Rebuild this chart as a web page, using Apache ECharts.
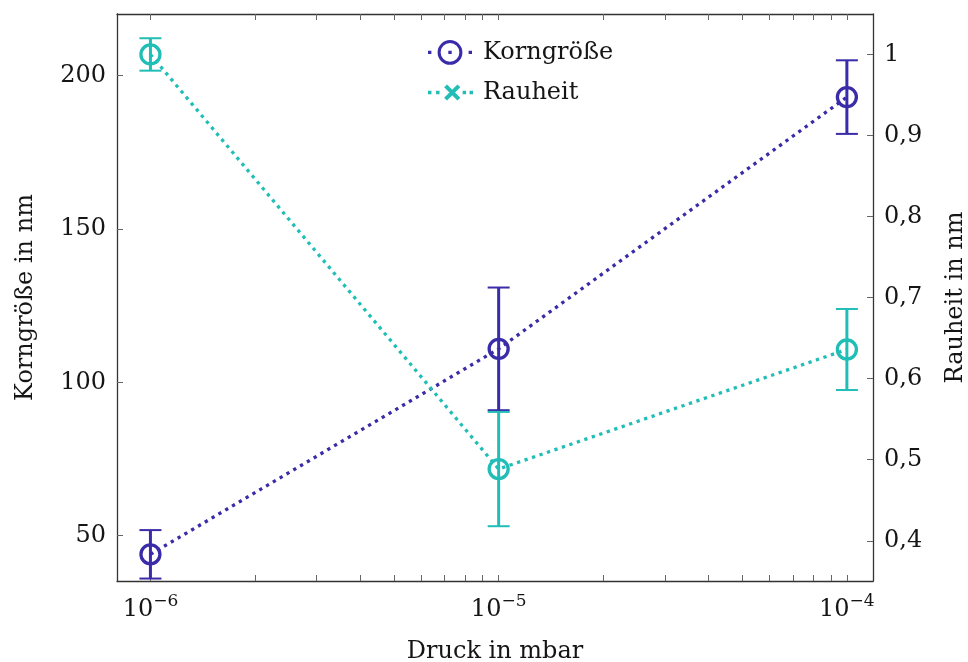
<!DOCTYPE html>
<html><head><meta charset="utf-8">
<script src="https://cdn.jsdelivr.net/npm/echarts@6/dist/echarts.min.js"></script>
<style>html,body{margin:0;padding:0;background:#fff}#c{width:968px;height:662px}</style>
</head><body><div id="c"></div>
<script>
// ---- data ----
const pressure = [1e-6, 1e-5, 1e-4];
const korngroesse = [43.9, 110.9, 193.0];
const korngroesseErr = [7.9, 20.0, 12.0];
const rauheit = [1.0, 0.4885, 0.636];
const rauheitErr = [0.020, 0.0705, 0.050];
const xLabelTicks = [1e-6, 1e-5, 1e-4];
const xMinorTicks = [1e-6, 2e-6, 3e-6, 4e-6, 5e-6, 6e-6, 7e-6, 8e-6, 9e-6,
                     1e-5, 2e-5, 3e-5, 4e-5, 5e-5, 6e-5, 7e-5, 8e-5, 9e-5, 1e-4];
const leftTicks = [50, 100, 150, 200];
const rightTicks = [0.4, 0.5, 0.6, 0.7, 0.8, 0.9, 1.0];

// ---- style ----
const FONT = 'DejaVu Serif';
const FS = 24;
const TXT = '#151515';
const C1 = '#3a2ba8';
const C2 = '#20beb6';
const AX = '#333';
const TICK = '#666';

const KORN_ICON = 'path://M0 9.5h3v3h-3Z M36 9.5h3v3h-3Z M18 9.5h3v3h-3Z ' +
  'M30.5 11A11 11 0 1 1 8.5 11A11 11 0 1 1 30.5 11Z M27.8 11A8.3 8.3 0 1 0 11.2 11A8.3 8.3 0 1 0 27.8 11Z';
const RAU_ICON = 'path://M0 5.5h3v3h-3Z M7 5.5h3v3h-3Z M30 5.5h3v3h-3Z M36 5.5h3v3h-3Z ' +
  'M16.48 0L28 11.52L25.52 14L14 2.48Z M25.52 0L28 2.48L16.48 14L14 11.52Z';

const chart = echarts.init(document.getElementById('c'), null, {renderer: 'canvas'});

function xfmt(v) {
  const e = v > 0 && v < 1 ? Math.round(Math.log10(v)) : Math.round(v);
  return '{b|10}{s|\u2212' + Math.abs(e) + '}';
}
const xRich = {
  b: {fontFamily: FONT, fontSize: FS, color: TXT},
  s: {fontFamily: FONT, fontSize: 17, color: TXT, padding: [0, 0, 16, 0]}
};

function errItem(params, api) {
  const x = api.value(0), y = api.value(1), e = api.value(2);
  const top = api.coord([x, y + e]);
  const bot = api.coord([x, y - e]);
  const color = api.visual('color');
  const hw = 11;
  return {
    type: 'group',
    children: [
      {type: 'line', shape: {x1: top[0], y1: top[1], x2: bot[0], y2: bot[1]}, style: {stroke: color, lineWidth: 3}},
      {type: 'line', shape: {x1: top[0] - hw, y1: top[1], x2: top[0] + hw, y2: top[1]}, style: {stroke: color, lineWidth: 2}},
      {type: 'line', shape: {x1: bot[0] - hw, y1: bot[1], x2: bot[0] + hw, y2: bot[1]}, style: {stroke: color, lineWidth: 2}}
    ]
  };
}

const xBase = {
  type: 'log', logBase: 10,
  min: Math.pow(10, -6.096), max: Math.pow(10, -3.925),
  axisLine: {show: true, onZero: false, lineStyle: {color: AX, width: 1.3}},
  axisTick: {show: true, inside: true, length: 6, customValues: xMinorTicks, lineStyle: {color: TICK, width: 1}},
  splitLine: {show: false},
  minorTick: {show: false},
  minorSplitLine: {show: false}
};

const option = {
  backgroundColor: '#fff',
  animation: false,
  grid: {left: 117, right: 95, top: 14, bottom: 81, containLabel: false, outerBoundsMode: 'none'},
  legend: [
    {
      left: 428, top: 40, padding: 0, orient: 'vertical', itemWidth: 44, itemHeight: 26, itemGap: 5,
      selectedMode: false,
      textStyle: {fontFamily: FONT, fontSize: FS, color: TXT, padding: [0, 0, 0, 6]},
      data: [{name: 'Korngröße', icon: KORN_ICON, itemStyle: {color: C1, borderWidth: 0}}]
    },
    {
      left: 428, top: 80.5, padding: 0, orient: 'vertical', itemWidth: 45, itemHeight: 16.5, itemGap: 5,
      selectedMode: false,
      textStyle: {fontFamily: FONT, fontSize: FS, color: TXT, padding: [0, 0, 0, 5]},
      data: [{name: 'Rauheit', icon: RAU_ICON, itemStyle: {color: C2, borderWidth: 0}}]
    }
  ],
  xAxis: [
    Object.assign({}, xBase, {
      position: 'bottom',
      axisLabel: {show: true, customValues: xLabelTicks, margin: 12, formatter: xfmt, rich: xRich},
      name: 'Druck in mbar', nameLocation: 'middle', nameGap: 59,
      nameTextStyle: {fontFamily: FONT, fontSize: FS, color: TXT}
    }),
    Object.assign({}, xBase, {
      position: 'top',
      axisLabel: {show: false}
    })
  ],
  yAxis: [
    {
      type: 'value', position: 'left', min: 35.2, max: 220.1,
      axisLine: {show: true, onZero: false, lineStyle: {color: AX, width: 1.3}},
      axisTick: {show: true, inside: true, length: 6, customValues: leftTicks, lineStyle: {color: TICK}},
      axisLabel: {customValues: leftTicks, margin: 11, fontFamily: FONT, fontSize: FS, color: TXT},
      splitLine: {show: false},
      name: 'Korngröße in nm', nameLocation: 'middle', nameGap: 79, nameRotate: 90,
      nameTextStyle: {fontFamily: FONT, fontSize: FS, color: TXT}
    },
    {
      type: 'value', position: 'right', min: 0.3504, max: 1.0499,
      axisLine: {show: true, onZero: false, lineStyle: {color: AX, width: 1.3}},
      axisTick: {show: true, inside: true, length: 6, customValues: rightTicks, lineStyle: {color: TICK}},
      axisLabel: {customValues: rightTicks, margin: 11, fontFamily: FONT, fontSize: FS, color: TXT,
        formatter: v => String(Math.round(v * 10) / 10).replace('.', ',')},
      splitLine: {show: false},
      name: 'Rauheit in nm', nameLocation: 'middle', nameGap: 71, nameRotate: 90,
      nameTextStyle: {fontFamily: FONT, fontSize: FS, color: TXT}
    }
  ],
  series: [
    {
      name: 'KorngrößeErr', type: 'custom', xAxisIndex: 0, yAxisIndex: 0,
      itemStyle: {color: C1}, renderItem: errItem, z: 2,
      data: pressure.map((p, i) => [p, korngroesse[i], korngroesseErr[i]])
    },
    {
      name: 'RauheitErr', type: 'custom', xAxisIndex: 0, yAxisIndex: 1,
      itemStyle: {color: C2}, renderItem: errItem, z: 2,
      data: pressure.map((p, i) => [p, rauheit[i], rauheitErr[i]])
    },
    {
      name: 'Korngröße', type: 'line', xAxisIndex: 0, yAxisIndex: 0, z: 3,
      symbol: 'circle', symbolSize: 19,
      itemStyle: {color: 'rgba(0,0,0,0)', borderColor: C1, borderWidth: 3.3},
      lineStyle: {color: C1, width: 3.3, type: [3.3, 4.6], cap: 'butt'},
      emphasis: {disabled: true},
      data: pressure.map((p, i) => [p, korngroesse[i]])
    },
    {
      name: 'Rauheit', type: 'line', xAxisIndex: 0, yAxisIndex: 1, z: 3,
      symbol: 'circle', symbolSize: 19,
      itemStyle: {color: 'rgba(0,0,0,0)', borderColor: C2, borderWidth: 3.3},
      lineStyle: {color: C2, width: 3.3, type: [3.3, 4.6], cap: 'butt'},
      emphasis: {disabled: true},
      data: pressure.map((p, i) => [p, rauheit[i]])
    }
  ]
};
chart.setOption(option);
</script>
</body></html>
